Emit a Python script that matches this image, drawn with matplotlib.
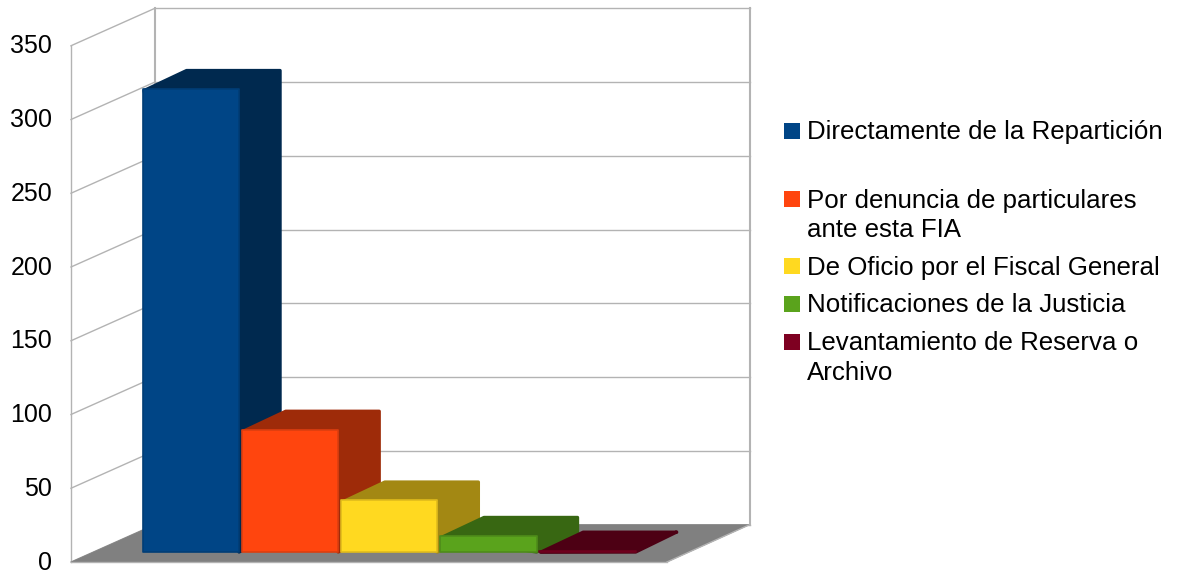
import matplotlib
matplotlib.use("Agg")
import matplotlib.pyplot as plt
from matplotlib.patches import Polygon, Rectangle

# ---- data ----
categories = ["Directamente de la Repartición",
              "Por denuncia de particulares\nante esta FIA",
              "De Oficio por el Fiscal General",
              "Notificaciones de la Justicia",
              "Levantamiento de Reserva o\nArchivo"]
values = [314, 83, 35, 11, 1]
yticks = [0, 50, 100, 150, 200, 250, 300, 350]
colors = ["#004586", "#ff450e", "#ffd920", "#5aa31c", "#7e0021"]
edges = ["#003d76", "#dc3e10", "#e0bb1c", "#4e8c1a", "#6e001d"]
shades = ["#00294f", "#9e2b09", "#a38813", "#386712", "#4d0014"]
legend_text_y = [120.5, 188.5, 255.5, 293.5, 331.5]
legend_box_y = [123, 191, 258, 296, 334]

W, H = 1177, 573
plt.rcParams["font.family"] = ["Liberation Sans", "DejaVu Sans"]
fig = plt.figure(figsize=(W / 100, H / 100), dpi=100, facecolor="white")

# layout of the pseudo-3D scene
PX_Y = 1.475       # pixels per value unit
PX_X = 99.15       # pixels per category
X0 = 190.8         # pixel centre of first bar
Y0 = 552.0         # pixel baseline of the bars
BAR_W = 96.5 / PX_X
DEPTH_X = 42.5 / PX_X
DEPTH_Y = 20.0 / PX_Y
INSET_X = 1.5 / PX_X
INSET_Y = 1.7 / PX_Y

ax = fig.add_axes([0, 0, 1, 1])
ax.set_xlim((0 - X0) / PX_X, (W - X0) / PX_X)
ax.set_ylim((Y0 - H) / PX_Y, Y0 / PX_Y)
ax.axis("off")

ymax = yticks[-1]
wall_fx = (71 - X0) / PX_X
wall_bx = (155 - X0) / PX_X
wall_rx = (750 - X0) / PX_X
floor_rx = (667 - X0) / PX_X
front_y = (Y0 - 562) / PX_Y
back_y = (Y0 - 524.5) / PX_Y
GRID = "#b3b3b3"

ax.add_patch(Polygon([(wall_fx, front_y), (wall_bx, back_y), (wall_rx, back_y), (floor_rx, front_y)],
                     closed=True, facecolor="#808080", edgecolor="#808080", lw=0.5, zorder=1))
for t in yticks:
    ax.plot([wall_bx, wall_rx], [back_y + t, back_y + t], color=GRID, lw=1.0, zorder=0.5)
    ax.plot([wall_fx, wall_bx], [front_y + t, back_y + t], color=GRID, lw=1.0, zorder=0.5)
ax.plot([wall_fx, wall_fx], [front_y, front_y + ymax], color=GRID, lw=1.0, zorder=0.5)
ax.plot([wall_bx, wall_bx], [back_y, back_y + ymax], color=GRID, lw=1.5, zorder=0.5)
ax.plot([wall_rx, wall_rx], [back_y, back_y + ymax], color=GRID, lw=1.5, zorder=0.5)
ax.plot([wall_fx, floor_rx], [front_y, front_y], color=GRID, lw=1.0, zorder=1.1)
ax.plot([floor_rx, wall_rx], [front_y, back_y], color=GRID, lw=1.0, zorder=1.1)

for i, v in enumerate(values):
    l, r = i - BAR_W / 2, i + BAR_W / 2
    z = 2 + i
    # silhouette of top and side faces, with rounded outer corners
    ax.add_patch(Polygon([(l + INSET_X, v - INSET_Y),
                          (l + DEPTH_X + INSET_X, v + DEPTH_Y - INSET_Y),
                          (r + DEPTH_X - INSET_X, v + DEPTH_Y - INSET_Y),
                          (r + DEPTH_X - INSET_X, DEPTH_Y),
                          (r, 0)],
                         closed=True, facecolor=shades[i], edgecolor=shades[i], lw=2.4,
                         joinstyle="round", zorder=z))
    # front face
    ax.add_patch(Rectangle((l, 0), BAR_W, v, facecolor=colors[i], edgecolor=edges[i], lw=1.2,
                           joinstyle="round", zorder=z + 0.5))

# value axis sits on the front edge of the left wall
ax_front = fig.add_axes([71 / W, (H - 560.5) / H, 0.001, (560.5 - 43.5) / H])
ax_front.patch.set_visible(False)
ax_front.set_ylim(0, ymax)
ax_front.set_yticks(yticks)
ax_front.set_xticks([])
ax_front.tick_params(axis="y", length=0, pad=13.5, labelsize=18, labelcolor="black")
for s in ax_front.spines.values():
    s.set_visible(False)

# legend
for name, c, ty, by in zip(categories, colors, legend_text_y, legend_box_y):
    fig.patches.append(Rectangle((784 / W, 1 - (by + 16) / H), 16 / W, 16 / H, transform=fig.transFigure,
                                 facecolor=c, edgecolor="none"))
    fig.text(807 / W, 1 - ty / H, name, ha="left", va="top", fontsize=18.6, color="black", linespacing=1.28)

fig.savefig("out.png", dpi=100)
